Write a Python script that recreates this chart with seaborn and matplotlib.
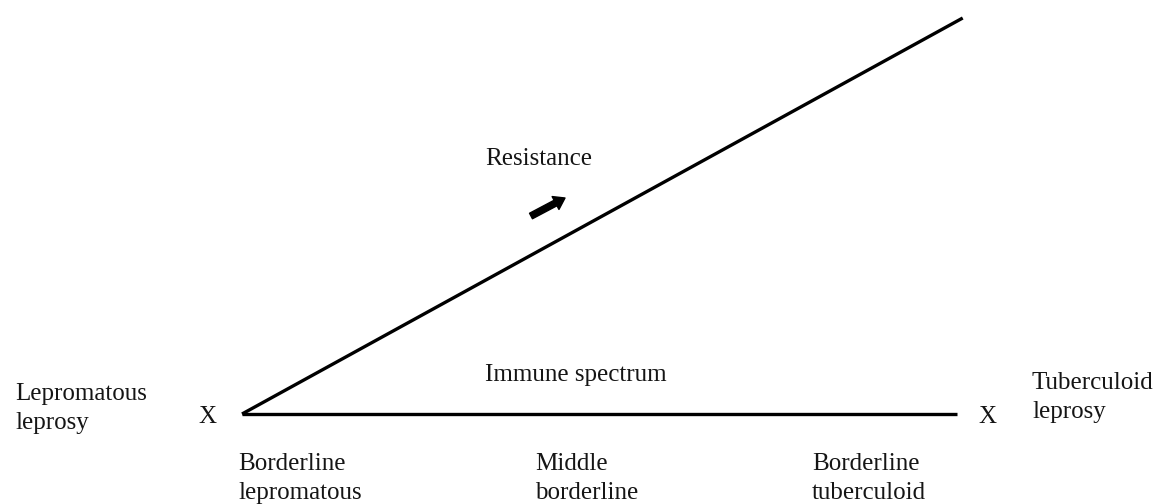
import matplotlib
matplotlib.use("Agg")
import matplotlib.pyplot as plt
import pandas as pd
import seaborn as sns

# Immune spectrum: 0 = lepromatous end, 1 = tuberculoid end
spectrum_x = [0.0, 1.0]
spectrum_y = [0.0, 0.0]
# Resistance rises across the spectrum
resistance_x = [0.0, 1.008]
resistance_y = [0.0, 1.0]

pole_labels = ["Lepromatous\nleprosy", "Tuberculoid\nleprosy"]
stage_labels = ["Borderline\nlepromatous", "Middle\nborderline", "Borderline\ntuberculoid"]
axis_title = "Immune spectrum"
trend_title = "Resistance"

sns.set_theme(style="white")
plt.rcParams["font.family"] = ["Liberation Serif", "DejaVu Serif"]

W, H = 1156, 504
fig = plt.figure(figsize=(W / 100, H / 100), dpi=100)
# axes spans the spectrum line (x) and the resistance rise (y), in pixels
x0, x1, ytop, ybot = 242, 957, 18, 414
ax = fig.add_axes([x0 / W, (H - ybot) / H, (x1 - x0) / W, (ybot - ytop) / H])
ax.set_xlim(0, 1)
ax.set_ylim(0, 1)
ax.axis("off")


def px(x, y):
    """pixel position -> data position"""
    return (x - x0) / (x1 - x0), (ybot - y) / (ybot - ytop)


lines = pd.DataFrame({
    "x": spectrum_x + resistance_x,
    "y": spectrum_y + resistance_y,
    "which": ["spectrum"] * 2 + ["resistance"] * 2,
})
sns.lineplot(data=lines, x="x", y="y", units="which", estimator=None,
             color="black", lw=2.4, sort=False, ax=ax)
for l in ax.lines:
    l.set_clip_on(False)
    l.set_solid_capstyle("butt")

fs = 18
tc = "#151515"
step = 29  # pixel gap between baselines of a two-line label


def label(x, y, text, ha="left"):
    # y is the baseline of the first line, in pixels
    for i, part in enumerate(text.split("\n")):
        ax.text(*px(x, y + i * step), part, ha=ha, va="baseline",
                fontsize=fs, color=tc)


# poles
label(15, 400, pole_labels[0])
label(1032, 389, pole_labels[1])
label(207, 423, "X", ha="center")
label(987, 423, "X", ha="center")

# stages along the bottom
for lab, xp in zip(stage_labels, [238, 535, 812]):
    label(xp, 470, lab)

label(485, 381, axis_title)
label(485, 165, trend_title)

# small arrow showing the direction of resistance
ax.annotate("", xy=px(565, 198), xytext=px(531, 216),
            arrowprops=dict(arrowstyle="simple,head_length=0.55,head_width=0.75,tail_width=0.32",
                            color="black", mutation_scale=14, shrinkA=0, shrinkB=0),
            annotation_clip=False)

fig.savefig("out.png", dpi=100, facecolor="white")
